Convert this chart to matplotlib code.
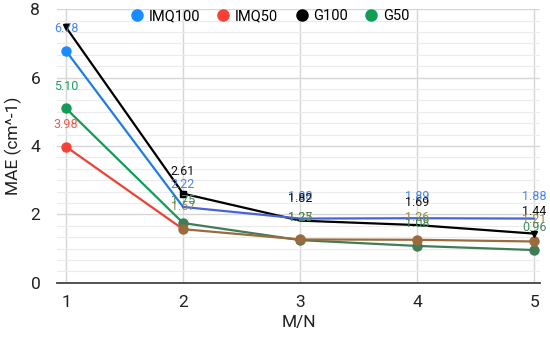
import matplotlib
matplotlib.use("Agg")
import matplotlib.pyplot as plt
from matplotlib.ticker import MultipleLocator
from matplotlib.lines import Line2D

plt.rcParams['font.family'] = ['Roboto', 'DejaVu Sans']

x = [1, 2, 3, 4, 5]
imq100 = [6.78, 2.22, 1.88, 1.89, 1.88]
imq50 = [3.98, 1.57, 1.27, 1.26, 1.21]
g100 = [7.47, 2.61, 1.82, 1.69, 1.44]
g50 = [5.10, 1.75, 1.25, 1.08, 0.96]
series_names = ["IMQ100", "IMQ50", "G100", "G50"]
x_ticks = [1, 2, 3, 4, 5]
y_ticks = [0, 2, 4, 6, 8]

fig = plt.figure(figsize=(5.5, 3.38), dpi=100)
ax = fig.add_axes([0.1036, 0.163, 0.8784, 0.81])
ax.set_xlim(0.923, 5.05)
ax.set_ylim(0, 8)

ax.yaxis.set_major_locator(MultipleLocator(2))
ax.yaxis.set_minor_locator(MultipleLocator(1/3))
ax.set_xticks(x_ticks)
ax.set_yticks(y_ticks)
ax.grid(True, which='major', axis='both', color='#d6d6d6', lw=1.0)
ax.grid(True, which='minor', axis='y', color='#ebebeb', lw=0.8)
ax.set_axisbelow(True)
for s in ['top', 'right', 'left']:
    ax.spines[s].set_visible(False)
ax.spines['bottom'].set_color('#444444')
ax.spines['bottom'].set_linewidth(1.3)
ax.tick_params(axis='both', which='both', length=0, labelsize=12.5, colors='#222222')
ax.tick_params(axis='x', pad=9)
ax.tick_params(axis='y', pad=12)
ax.set_xlabel("M/N", fontsize=12.5, color='#222222', labelpad=3)
ax.set_ylabel("MAE (cm^-1)", fontsize=12.5, color='#222222', labelpad=6)

# lines
ax.plot(x[:2], g100[:2], color='black', lw=1.6, zorder=3)
ax.plot(x[1:], g100[1:], color='black', lw=1.6, zorder=3, marker='s', ms=4, markevery=[0])
ax.plot([x[0], x[4]], [g100[0], g100[4]], color='black', marker='v', ms=4.5, lw=0, zorder=4)

ax.plot(x[:2], imq100[:2], color='#1f7ee0', lw=1.6, zorder=3)
ax.plot(x[1:], imq100[1:], color='#4a62d8', lw=1.6, zorder=3)
ax.plot(x[:1], imq100[:1], color='#1a8cff', marker='o', ms=6.5, lw=0, zorder=4)

ax.plot(x[:2], g50[:2], color='#0f9d58', lw=1.6, zorder=3)
ax.plot(x[1:], g50[1:], color='#3f7c58', lw=1.6, zorder=3, marker='o', ms=6.5)
ax.plot(x[:1], g50[:1], color='#0f9d58', marker='o', ms=6.5, lw=0, zorder=4)

ax.plot(x[:2], imq50[:2], color='#ea4335', lw=1.6, zorder=3)
ax.plot(x[1:], imq50[1:], color='#9c6b3c', lw=1.6, zorder=3, marker='o', ms=6.5)
ax.plot(x[:1], imq50[:1], color='#f44336', marker='o', ms=6.5, lw=0, zorder=4)

# data labels
label_specs = [
    (imq100, '#4a86e8', range(5)),
    (g100, '#111111', range(1, 5)),
    (imq50, '#f05a4f', [0]),
    (imq50, '#9a8a4a', range(1, 5)),
    (g50, '#1a9e62', [0]),
    (g50, '#3f8a5e', range(1, 5)),
]
for vals, col, idxs in label_specs:
    for i in idxs:
        ax.annotate(f"{vals[i]:.2f}", (x[i], vals[i]), xytext=(0, 16),
                    textcoords='offset points', ha='center', va='center',
                    fontsize=9, color=col, zorder=5)

# legend
handles = [Line2D([], [], ls='', marker='o', ms=8, color=c)
           for c in ['#1a8cff', '#f44336', '#000000', '#0f9d58']]
fig.legend(handles, series_names, loc='center', bbox_to_anchor=(0.49, 0.952),
           ncol=4, frameon=False, fontsize=10.5, handletextpad=0.3,
           columnspacing=1.1, handlelength=1.0)

fig.savefig("out.png", dpi=100)
